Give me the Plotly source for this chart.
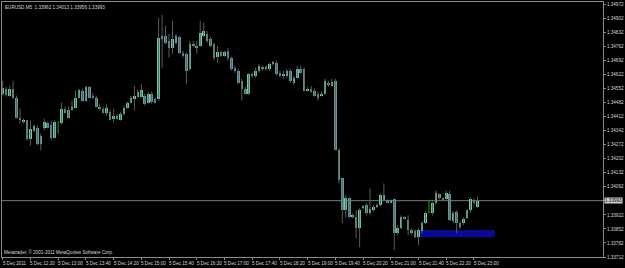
import plotly.graph_objects as go
import pandas as pd

symbol_title = "EURUSD,M5  1.33962 1.34013 1.33956 1.33993"
copyright_text = "Metatrader, © 2001-2011 MetaQuotes Software Corp."

bar_times = pd.date_range("2011-12-05 11:40", periods=138, freq="5min")

opens = [1.34527, 1.34552, 1.34517, 1.34552, 1.34507, 1.34407, 1.34383, 1.34393, 1.34303, 1.34343,
         1.34358, 1.34278, 1.34358, 1.34378, 1.34368, 1.34308, 1.34383, 1.34378, 1.34452, 1.34447,
         1.34447, 1.34457, 1.34507, 1.34542, 1.34492, 1.34561, 1.34517, 1.34507, 1.34462, 1.34452,
         1.34432, 1.34437, 1.34402, 1.34417, 1.34397, 1.34427, 1.34457, 1.34482, 1.34502, 1.34512,
         1.34512, 1.34517, 1.34482, 1.34527, 1.34502, 1.34502, 1.34800, 1.34815, 1.34790, 1.34755,
         1.34780, 1.34810, 1.34731, 1.34726, 1.34651, 1.34775, 1.34765, 1.34765, 1.34815, 1.34825,
         1.34800, 1.34775, 1.34711, 1.34736, 1.34716, 1.34741, 1.34706, 1.34656, 1.34641, 1.34591,
         1.34552, 1.34527, 1.34626, 1.34616, 1.34641, 1.34656, 1.34651, 1.34651, 1.34676, 1.34681,
         1.34631, 1.34616, 1.34616, 1.34641, 1.34581, 1.34606, 1.34651, 1.34651, 1.34542, 1.34552,
         1.34542, 1.34527, 1.34517, 1.34527, 1.34581, 1.34566, 1.34591, 1.34244, 1.34104, 1.33945,
         1.34004, 1.33910, 1.33910, 1.33856, 1.33955, 1.33970, 1.33930, 1.33945, 1.33960, 1.33970,
         1.33994, 1.33994, 1.33985, 1.33999, 1.33831, 1.33856, 1.33910, 1.33896, 1.33846, 1.33841,
         1.33811, 1.33841, 1.33881, 1.33930, 1.33930, 1.33980, 1.34024, 1.34004, 1.33999, 1.34024,
         1.33891, 1.33935, 1.33881, 1.33881, 1.33905, 1.33945, 1.33994, 1.33962]
highs = [1.34591, 1.34561, 1.34566, 1.34591, 1.34517, 1.34452, 1.34402, 1.34397, 1.34393, 1.34373,
         1.34368, 1.34328, 1.34402, 1.34388, 1.34393, 1.34393, 1.34388, 1.34482, 1.34462, 1.34462,
         1.34492, 1.34542, 1.34552, 1.34552, 1.34566, 1.34566, 1.34527, 1.34517, 1.34477, 1.34462,
         1.34477, 1.34447, 1.34452, 1.34427, 1.34437, 1.34467, 1.34487, 1.34517, 1.34566, 1.34547,
         1.34576, 1.34527, 1.34537, 1.34537, 1.34507, 1.34905, 1.34919, 1.34865, 1.34825, 1.34890,
         1.34825, 1.34815, 1.34741, 1.34731, 1.34790, 1.34790, 1.34790, 1.34890, 1.34880, 1.34840,
         1.34810, 1.34780, 1.34765, 1.34741, 1.34741, 1.34755, 1.34711, 1.34666, 1.34651, 1.34601,
         1.34561, 1.34631, 1.34631, 1.34656, 1.34676, 1.34666, 1.34666, 1.34681, 1.34691, 1.34691,
         1.34641, 1.34641, 1.34651, 1.34651, 1.34616, 1.34666, 1.34666, 1.34656, 1.34561, 1.34566,
         1.34552, 1.34537, 1.34537, 1.34601, 1.34591, 1.34601, 1.34601, 1.34254, 1.34104, 1.34019,
         1.34009, 1.33930, 1.33945, 1.33955, 1.33970, 1.33980, 1.34054, 1.33970, 1.33980, 1.34029,
         1.34079, 1.33999, 1.33999, 1.34004, 1.33871, 1.33920, 1.33915, 1.33920, 1.33856, 1.33851,
         1.33856, 1.33891, 1.33940, 1.33994, 1.33990, 1.34044, 1.34029, 1.34009, 1.34044, 1.34044,
         1.33940, 1.33945, 1.33891, 1.33910, 1.33950, 1.34009, 1.34004, 1.34013]
lows = [1.34517, 1.34512, 1.34512, 1.34502, 1.34402, 1.34378, 1.34378, 1.34293, 1.34268, 1.34338,
        1.34268, 1.34244, 1.34343, 1.34353, 1.34293, 1.34303, 1.34328, 1.34373, 1.34427, 1.34402,
        1.34442, 1.34452, 1.34502, 1.34487, 1.34487, 1.34502, 1.34502, 1.34457, 1.34442, 1.34427,
        1.34417, 1.34393, 1.34383, 1.34397, 1.34393, 1.34417, 1.34452, 1.34477, 1.34442, 1.34507,
        1.34507, 1.34467, 1.34477, 1.34477, 1.34477, 1.34492, 1.34656, 1.34775, 1.34706, 1.34726,
        1.34775, 1.34726, 1.34706, 1.34576, 1.34641, 1.34760, 1.34726, 1.34760, 1.34810, 1.34780,
        1.34760, 1.34691, 1.34681, 1.34711, 1.34711, 1.34691, 1.34641, 1.34631, 1.34576, 1.34492,
        1.34522, 1.34522, 1.34606, 1.34606, 1.34631, 1.34641, 1.34641, 1.34641, 1.34666, 1.34616,
        1.34606, 1.34601, 1.34606, 1.34581, 1.34571, 1.34601, 1.34626, 1.34542, 1.34537, 1.34532,
        1.34512, 1.34492, 1.34512, 1.34522, 1.34561, 1.34561, 1.34244, 1.34079, 1.33881, 1.33910,
        1.33905, 1.33905, 1.33806, 1.33761, 1.33950, 1.33920, 1.33920, 1.33940, 1.33955, 1.33965,
        1.33990, 1.33980, 1.33980, 1.33746, 1.33821, 1.33851, 1.33900, 1.33821, 1.33821, 1.33806,
        1.33771, 1.33831, 1.33876, 1.33930, 1.33920, 1.33970, 1.33999, 1.33990, 1.33994, 1.33891,
        1.33881, 1.33831, 1.33851, 1.33871, 1.33900, 1.33935, 1.33970, 1.33956]
closes = [1.34557, 1.34522, 1.34552, 1.34507, 1.34407, 1.34393, 1.34397, 1.34303, 1.34353, 1.34363,
          1.34278, 1.34318, 1.34383, 1.34358, 1.34308, 1.34383, 1.34383, 1.34452, 1.34432, 1.34407,
          1.34462, 1.34507, 1.34547, 1.34492, 1.34561, 1.34507, 1.34507, 1.34462, 1.34452, 1.34432,
          1.34457, 1.34397, 1.34417, 1.34402, 1.34427, 1.34457, 1.34482, 1.34507, 1.34517, 1.34537,
          1.34547, 1.34477, 1.34527, 1.34487, 1.34482, 1.34805, 1.34815, 1.34780, 1.34755, 1.34800,
          1.34815, 1.34731, 1.34716, 1.34641, 1.34775, 1.34765, 1.34755, 1.34830, 1.34840, 1.34790,
          1.34765, 1.34706, 1.34736, 1.34716, 1.34736, 1.34706, 1.34651, 1.34641, 1.34581, 1.34552,
          1.34527, 1.34626, 1.34616, 1.34641, 1.34666, 1.34651, 1.34656, 1.34676, 1.34681, 1.34626,
          1.34616, 1.34626, 1.34641, 1.34591, 1.34606, 1.34651, 1.34631, 1.34542, 1.34552, 1.34537,
          1.34517, 1.34507, 1.34527, 1.34591, 1.34571, 1.34586, 1.34244, 1.34094, 1.33945, 1.34004,
          1.33910, 1.33920, 1.33856, 1.33945, 1.33965, 1.33930, 1.33950, 1.33960, 1.33970, 1.34019,
          1.34019, 1.33985, 1.33994, 1.33831, 1.33856, 1.33910, 1.33905, 1.33846, 1.33831, 1.33811,
          1.33846, 1.33881, 1.33930, 1.33930, 1.33980, 1.34029, 1.34004, 1.33999, 1.34029, 1.33896,
          1.33930, 1.33881, 1.33861, 1.33900, 1.33945, 1.33999, 1.33980, 1.33993]

time_tick_times = ["11:40", "12:20", "13:00", "13:40", "14:20", "15:00", "15:40", "16:20", "17:00",
                   "17:40", "18:20", "19:00", "19:40", "20:20", "21:00", "21:40", "22:20", "23:00"]
time_tick_labels = ["5 Dec 2011", "5 Dec 12:20", "5 Dec 13:00", "5 Dec 13:40", "5 Dec 14:20",
                    "5 Dec 15:00", "5 Dec 15:40", "5 Dec 16:20", "5 Dec 17:00", "5 Dec 17:40",
                    "5 Dec 18:20", "5 Dec 19:00", "5 Dec 19:40", "5 Dec 20:20", "5 Dec 21:00",
                    "5 Dec 21:40", "5 Dec 22:20", "5 Dec 23:00"]
price_ticks = [1.33712, 1.33782, 1.33852, 1.33922, 1.33992, 1.34062, 1.34132, 1.34202, 1.34272,
               1.34342, 1.34412, 1.34482, 1.34552, 1.34622, 1.34692, 1.34762, 1.34832, 1.34902, 1.34972]
bid_price = 1.33993
zone_start, zone_end = "2011-12-05 21:40", "2011-12-05 23:30"
zone_low, zone_high = 1.33811, 1.33847

# ---------------------------------------------------------------
t0 = bar_times[0]
step = pd.Timedelta("5min")
def idx(t):
    return (pd.Timestamp(t) - t0) / step

xs = list(range(len(bar_times)))
tick_idx = [idx(f"2011-12-05 {t}") for t in time_tick_times]

BULL, BEAR = "#66CDAA", "#5F9EA0"
WICK, DOJI = "#5c5c5c", "#1aa01a"
GREY = "#8a8a8a"
TXT = "#d6d6d6"
FONT = "Liberation Sans"

fig = go.Figure()

wx, wy, dx, dy = [], [], [], []
for i, (o, h, l, c) in enumerate(zip(opens, highs, lows, closes)):
    if o == c:
        dx += [i, i, None]; dy += [h, l, None]
    else:
        wx += [i, i, None]; wy += [h, l, None]
fig.add_trace(go.Scatter(x=wx, y=wy, mode="lines", line=dict(color=WICK, width=1), hoverinfo="skip"))
fig.add_trace(go.Scatter(x=dx, y=dy, mode="lines", line=dict(color=DOJI, width=1), hoverinfo="skip"))

base = [min(o, c) for o, c in zip(opens, closes)]
height = [abs(c - o) for o, c in zip(opens, closes)]
colors = [BULL if c >= o else BEAR for o, c in zip(opens, closes)]
fig.add_trace(go.Bar(x=xs, y=height, base=base, width=0.74,
                     marker=dict(color=colors, line=dict(width=0))))

fig.add_shape(type="rect", xref="x", yref="y", x0=idx(zone_start), x1=idx(zone_end),
              y0=zone_low, y1=zone_high, fillcolor="#0b0b90", line=dict(width=0), layer="below")
fig.add_shape(type="line", xref="paper", yref="y", x0=0, x1=1, y0=bid_price, y1=bid_price,
              line=dict(color="#7a7a7a", width=1), layer="below")

for tx, lab in zip(tick_idx, time_tick_labels):
    fig.add_annotation(x=tx, xref="x", y=0, yref="paper", text=lab, showarrow=False,
                       xanchor="left", yanchor="top", yshift=-3, xshift=-1, borderpad=0,
                       font=dict(family=FONT, size=4.6, color=TXT))

fig.add_annotation(x=0, xref="paper", y=1, yref="paper", text=symbol_title, showarrow=False,
                   xanchor="left", yanchor="top", xshift=2, yshift=-2, borderpad=0,
                   font=dict(family=FONT, size=4.6, color=TXT))
fig.add_annotation(x=0, xref="paper", y=0, yref="paper", text=copyright_text, showarrow=False,
                   xanchor="left", yanchor="bottom", xshift=1, yshift=1, borderpad=0,
                   font=dict(family=FONT, size=4.6, color=TXT))
fig.add_annotation(x=1, xref="paper", y=bid_price, yref="y", text=f"{bid_price:.5f}", showarrow=False,
                   xanchor="left", yanchor="middle", xshift=1, borderpad=0, bgcolor="#d0d0d0",
                   font=dict(family=FONT, size=4.6, color="#000000"))

# the bid label box covers the grid label at the same level, as in the terminal
tick_text = ["" if abs(v - bid_price) < 0.0002 else f"{v:.5f}" for v in price_ticks]

fig.update_layout(
    width=625, height=268,
    margin=dict(l=1, r=17, t=1, b=11, pad=0),
    paper_bgcolor="#000000", plot_bgcolor="#000000",
    showlegend=False, bargap=0,
    xaxis=dict(range=[-0.2, 173.23], showgrid=False, zeroline=False, showline=True,
               linecolor=GREY, linewidth=1, mirror=True, ticks="outside", ticklen=2,
               tickcolor=GREY, tickvals=tick_idx, showticklabels=False, fixedrange=True),
    yaxis=dict(side="right", range=[1.33712, 1.34984], showgrid=False, zeroline=False,
               showline=True, linecolor=GREY, linewidth=1, mirror=True, ticks="outside",
               ticklen=2, tickcolor=GREY, tickvals=price_ticks, ticktext=tick_text,
               tickfont=dict(family=FONT, size=4.6, color=TXT), fixedrange=True),
)

fig.write_html("out.html")
